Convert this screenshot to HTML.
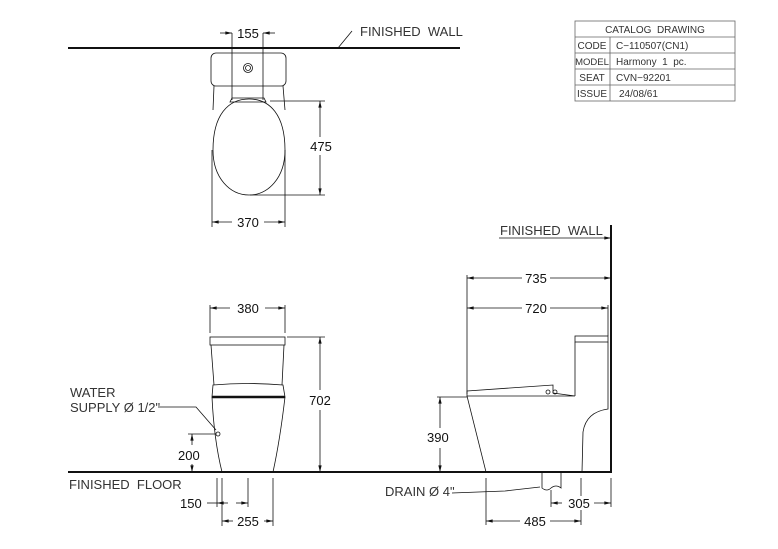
<!DOCTYPE html>
<html><head><meta charset="utf-8"><style>
html,body{margin:0;padding:0;background:#fff}
svg{display:block}
text{font-family:"Liberation Sans",sans-serif;font-size:13px;fill:#222}
.t{font-size:13px;fill:#333}
.d{font-size:13px;fill:#111}
.s{font-size:10px;fill:#333}
</style></head><body>
<svg width="778" height="549" viewBox="0 0 778 549" xmlns="http://www.w3.org/2000/svg">
<defs>
<marker id="a" viewBox="0 0 10 6" refX="10" refY="3" markerWidth="10" markerHeight="5" orient="auto-start-reverse"><path d="M0,0.5L10,3L0,5.5Z" fill="#111"/></marker>
</defs>
<g stroke="#111" fill="none" stroke-width="0.8">
<!-- TOP VIEW -->
<line x1="68" y1="48" x2="460" y2="48" stroke-width="2"/>
<line x1="338" y1="48" x2="352" y2="31"/>
<rect x="211" y="53" width="75" height="33" rx="5"/>
<circle cx="248" cy="68" r="4.5"/><circle cx="248" cy="68" r="2.5"/>
<path d="M214,86 L213,110 M283,86 L285,110"/>
<path d="M249,99 C228,99 213,115 213,150 C213,178 230,195 249,195 C268,195 285,178 285,150 C285,115 270,99 249,99 Z"/>
<path d="M232,98 L264,98 L266,102 L230,102 Z"/>
<line x1="232" y1="33" x2="232" y2="100"/><line x1="263" y1="33" x2="263" y2="100"/>
<line x1="220" y1="33" x2="232" y2="33" marker-end="url(#a)"/>
<line x1="275" y1="33" x2="263" y2="33" marker-end="url(#a)"/>
<line x1="270" y1="101" x2="325" y2="101"/><line x1="250" y1="195" x2="325" y2="195"/>
<line x1="320" y1="137" x2="320" y2="101" marker-end="url(#a)"/>
<line x1="320" y1="155" x2="320" y2="195" marker-end="url(#a)"/>
<line x1="212" y1="150" x2="212" y2="227"/><line x1="285" y1="150" x2="285" y2="227"/>
<line x1="232" y1="222" x2="212" y2="222" marker-end="url(#a)"/>
<line x1="264" y1="222" x2="285" y2="222" marker-end="url(#a)"/>
<!-- FRONT VIEW -->
<line x1="68" y1="472" x2="612" y2="472" stroke-width="2"/>
<line x1="210" y1="305" x2="210" y2="333"/><line x1="285" y1="305" x2="285" y2="333"/>
<line x1="230" y1="308" x2="210" y2="308" marker-end="url(#a)"/>
<line x1="265" y1="308" x2="285" y2="308" marker-end="url(#a)"/>
<rect x="210" y="337" width="75" height="8"/>
<path d="M211,345 L214,385 M284,345 L282,385"/>
<path d="M213,385 Q248,382 283,385 L285,397 L212,397 Z"/>
<line x1="212" y1="397" x2="285" y2="397" stroke-width="2.5"/>
<path d="M212,397 Q214,440 222,472 M285,397 Q280,440 273,472"/>
<line x1="287" y1="337" x2="325" y2="337"/>
<line x1="320" y1="390" x2="320" y2="337" marker-end="url(#a)"/>
<line x1="320" y1="410" x2="320" y2="472" marker-end="url(#a)"/>
<polyline points="158,407 196,407 216,430"/>
<circle cx="218" cy="434" r="2"/>
<line x1="188" y1="434" x2="216" y2="434"/>
<line x1="192" y1="445" x2="192" y2="434" marker-end="url(#a)"/>
<line x1="192" y1="464" x2="192" y2="472" marker-end="url(#a)"/>
<line x1="217" y1="478" x2="217" y2="507"/><line x1="222" y1="478" x2="222" y2="526"/>
<line x1="248" y1="478" x2="248" y2="507"/><line x1="273" y1="478" x2="273" y2="526"/>
<line x1="207" y1="503" x2="217" y2="503"/>
<line x1="236" y1="503" x2="248" y2="503" marker-end="url(#a)"/>
<line x1="228" y1="503" x2="217" y2="503" marker-end="url(#a)"/>
<line x1="233" y1="521" x2="222" y2="521" marker-end="url(#a)"/>
<line x1="264" y1="521" x2="273" y2="521" marker-end="url(#a)"/>
<!-- SIDE VIEW -->
<line x1="611" y1="225" x2="611" y2="472" stroke-width="2"/>
<line x1="499" y1="238" x2="611" y2="238" marker-end="url(#a)"/>
<line x1="467" y1="275" x2="467" y2="394"/>
<line x1="525" y1="278" x2="467" y2="278" marker-end="url(#a)"/>
<line x1="550" y1="278" x2="611" y2="278" marker-end="url(#a)"/>
<line x1="526" y1="308" x2="467" y2="308" marker-end="url(#a)"/>
<line x1="550" y1="308" x2="608" y2="308" marker-end="url(#a)"/>
<line x1="608" y1="305" x2="608" y2="336"/>
<rect x="575" y="336" width="33" height="6"/>
<path d="M575,342 L575,396 M608,342 L608,409 Q586,412 583,432 L582,472"/>
<path d="M467,391 L553,385 L553,393 L575,396 L467,396 Z"/>
<circle cx="548" cy="392" r="2"/><circle cx="555" cy="392" r="2"/>
<path d="M467,396 L486,472"/>
<line x1="437" y1="397" x2="467" y2="397"/>
<line x1="440" y1="428" x2="440" y2="397" marker-end="url(#a)"/>
<line x1="440" y1="448" x2="440" y2="472" marker-end="url(#a)"/>
<path d="M542,472 L542,488 Q547,492 551,488 Q556,484 561,488 L561,472"/>
<polyline points="452,493 505,491 540,487"/>
<line x1="486" y1="478" x2="486" y2="525"/><line x1="581" y1="478" x2="581" y2="525"/>
<line x1="551" y1="490" x2="551" y2="507"/><line x1="611" y1="478" x2="611" y2="507"/>
<line x1="562" y1="503" x2="551" y2="503" marker-end="url(#a)"/>
<line x1="594" y1="503" x2="611" y2="503" marker-end="url(#a)"/>
<line x1="522" y1="521" x2="486" y2="521" marker-end="url(#a)"/>
<line x1="550" y1="521" x2="581" y2="521" marker-end="url(#a)"/>
<!-- TABLE -->
<rect x="575" y="21" width="160" height="80" stroke="#666"/>
<path d="M575,37 H735 M575,53 H735 M575,69 H735 M575,85 H735 M610,37 V101" stroke="#666"/>
</g>
<g fill="#fff">
<rect x="236" y="26" width="24" height="14"/><rect x="308" y="139" width="26" height="14"/>
<rect x="235" y="215" width="27" height="14"/><rect x="234" y="301" width="28" height="14"/>
<rect x="307" y="393" width="27" height="14"/><rect x="234" y="514" width="29" height="14"/>
<rect x="522" y="271" width="27" height="14"/><rect x="522" y="301" width="27" height="14"/>
<rect x="520" y="514" width="29" height="14"/><rect x="565" y="496" width="28" height="14"/>
</g>
<text x="248" y="38" text-anchor="middle" class="d">155</text>
<text x="360" y="36" class="t">FINISHED&#160;&#160;WALL</text>
<text x="321" y="151" text-anchor="middle" class="d">475</text>
<text x="248" y="227" text-anchor="middle" class="d">370</text>
<text x="248" y="313" text-anchor="middle" class="d">380</text>
<text x="320" y="405" text-anchor="middle" class="d">702</text>
<text x="70" y="397" class="t">WATER</text>
<text x="70" y="412" class="t">SUPPLY Ø 1/2"</text>
<text x="178" y="460" class="d">200</text>
<text x="69" y="489" class="t">FINISHED&#160;&#160;FLOOR</text>
<text x="180" y="508" class="d">150</text>
<text x="248" y="526" text-anchor="middle" class="d">255</text>
<text x="500" y="235" class="t">FINISHED&#160;&#160;WALL</text>
<text x="536" y="283" text-anchor="middle" class="d">735</text>
<text x="536" y="313" text-anchor="middle" class="d">720</text>
<text x="427" y="442" class="d">390</text>
<text x="385" y="496" class="t">DRAIN Ø 4"</text>
<text x="579" y="508" text-anchor="middle" class="d">305</text>
<text x="535" y="526" text-anchor="middle" class="d">485</text>
<text x="655" y="33" text-anchor="middle" class="s">CATALOG&#160;&#160;DRAWING</text>
<text x="592" y="49" text-anchor="middle" class="s">CODE</text>
<text x="616" y="49" class="s">C−110507(CN1)</text>
<text x="592" y="65" text-anchor="middle" class="s" style="font-size:9.5px">MODEL</text>
<text x="616" y="65" class="s">Harmony&#160;&#160;1&#160;&#160;pc.</text>
<text x="592" y="81" text-anchor="middle" class="s">SEAT</text>
<text x="616" y="81" class="s">CVN−92201</text>
<text x="592" y="97" text-anchor="middle" class="s">ISSUE</text>
<text x="619" y="97" class="s">24/08/61</text>
</svg>
</body></html>
